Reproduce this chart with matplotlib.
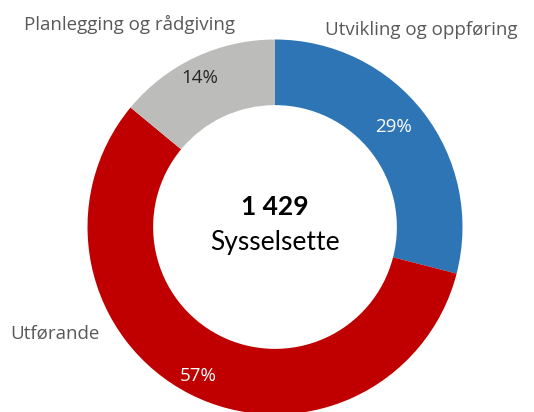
import matplotlib
matplotlib.use("Agg")
import matplotlib.pyplot as plt

categories = ["Utvikling og oppføring", "Utførande", "Planlegging og rådgiving"]
shares = [29, 57, 14]
pct_labels = ["29%", "57%", "14%"]
total_label = "1 429"
center_label = "Sysselsette"
colors = ["#2E75B6", "#C00000", "#BCBDBB"]
pct_colors = ["white", "white", "#262626"]

W, H = 534, 412
fig = plt.figure(figsize=(W / 100, H / 100), dpi=100)
ax = fig.add_axes([0, 0, 1, 1])

cx, cy, R = 275, H - 227, 187.5
wedges, _ = ax.pie(shares, colors=colors, startangle=90, counterclock=False,
                   radius=R, center=(cx, cy), frame=True,
                   wedgeprops=dict(width=R * 0.35, linewidth=0))
ax.set_xlim(0, W)
ax.set_ylim(0, H)
ax.set_aspect("equal")
ax.axis("off")

lab_font = "Open Sans"
pct_pos = [(394, H - 127), (198, H - 376), (200, H - 78)]
for (x, y), t, c in zip(pct_pos, pct_labels, pct_colors):
    ax.text(x, y, t, ha="center", va="center", fontsize=13.5, color=c, family=lab_font)

cat_pos = [(421, H - 35), (55, H - 339), (130, H - 30)]
for (x, y), t in zip(cat_pos, categories):
    ax.text(x, y, t, ha="center", va="baseline", fontsize=13.5, color="#595959", family=lab_font)

ax.text(cx, H - 207, total_label, ha="center", va="center", fontsize=19,
        fontweight="bold", color="black", family="Lato")
ax.text(cx, H - 242, center_label, ha="center", va="center", fontsize=19,
        color="black", family="Lato")

fig.savefig("out.png", dpi=100)
